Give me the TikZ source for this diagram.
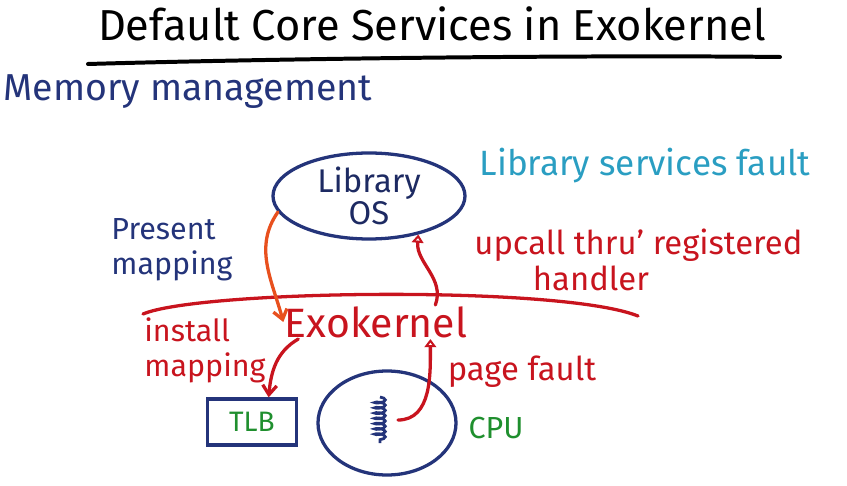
\documentclass[tikz,border=0pt]{standalone}
\usepackage{fontspec}
\setmainfont{Fira Sans}
\usetikzlibrary{arrows.meta,shapes.geometric,decorations.pathmorphing}
\definecolor{inkblue}{HTML}{24347A}
\definecolor{inkred}{HTML}{C8141E}
\definecolor{inkorange}{HTML}{E8501E}
\definecolor{inkteal}{HTML}{2A9EC2}
\definecolor{inkgreen}{HTML}{1F8F2E}
\newcommand{\ink}[2]{\fontsize{#1}{#2}\selectfont}

\begin{document}
\begin{tikzpicture}[
    x=0.03cm, y=-0.03cm,
    heading/.style={font=\ink{37}{42}, text=black, inner sep=1pt},
    topic/.style={font=\ink{32}{38}, text=inkblue, inner sep=1pt},
    remark/.style={font=\ink{26}{30}, inner sep=1pt},
    kernel/.style={font=\ink{35}{38}, text=inkred, inner sep=1pt},
    osnode/.style={ellipse, draw=inkblue, line width=2.8pt, minimum width=5.76cm, minimum height=2.58cm, inner sep=0pt, align=center, font=\ink{28}{30}, text=inkblue!80!black},
    cpunode/.style={ellipse, draw=inkblue, line width=2.8pt, minimum width=4.14cm, minimum height=3.12cm, inner sep=0pt},
    tlbbox/.style={draw=inkblue, line width=2.8pt, minimum width=2.67cm, minimum height=1.38cm, inner sep=0pt, font=\ink{24}{28}, text=inkgreen},
    inkline/.style={line width=2.8pt, line cap=round},
    barb/.style={inkline, -{Straight Barb[length=8pt,width=12pt]}},
    openhead/.style={inkline, -{Triangle[open,length=7pt,width=10pt]}}
]
\useasboundingbox (0,0) rectangle (847,486);

% titles
\node[heading] (title) at (432,24) {Default Core Services in Exokernel};
\draw[inkline, line width=3.4pt] (88,64) .. controls (300,58) and (600,55) .. (780,57);
\node[topic] (memmgmt) at (188,92) {Memory management};

% library OS and notes
\node[osnode] (libos) at (369,196) {Library\\[-2pt]OS};
\node[remark, text=inkteal, font=\ink{30}{34}] (svcnote) at (645,166) {Library services fault};
\node[remark, text=inkblue, align=left] (present) at (172,250) {Present\\mapping};
\node[remark, text=inkred, align=left, anchor=west, font=\ink{28}{31}] (upcall) at (473,260) {upcall thru' registered\\\hspace*{50pt}handler};

% kernel boundary
\draw[inkline, inkred] (143,314) .. controls (200,290) and (560,285) .. (638,316);
\node[kernel] (exo) at (376,322) {Exokernel};
\node[remark, text=inkred, align=left, anchor=west] (install) at (143,350) {install\\mapping};

% hardware
\node[tlbbox] (tlb) at (252,422) {TLB};
\node[cpunode] (cpu) at (387,423) {};
\node[remark, text=inkgreen] (cpulabel) at (496,428) {CPU};
\node[remark, text=inkred, font=\ink{28}{30}] (fault) at (522,372) {page fault};
\coordinate (thrtop) at (380,397);
\coordinate (thrbot) at (380,443);
\coordinate (thrend) at (398,420);
\draw[line width=2.4pt, inkblue, decorate, decoration={coil, aspect=0.3, segment length=4.5pt, amplitude=4.5pt}] (thrtop) -- (thrbot);

% connectors
\draw[barb, inkorange] (libos.190) to[out=235, in=105] (exo.west);
\draw[openhead, inkred] ([xshift=-1cm]exo.north east) to[out=70, in=-95] (libos.-38);
\draw[barb, inkred] ([xshift=0.45cm]exo.south west) to[out=210, in=85] ([xshift=0.5cm]tlb.north);
\draw[openhead, inkred] (thrend) to[out=0, in=-90] ([xshift=-1.15cm]exo.south east);
\end{tikzpicture}
\end{document}
